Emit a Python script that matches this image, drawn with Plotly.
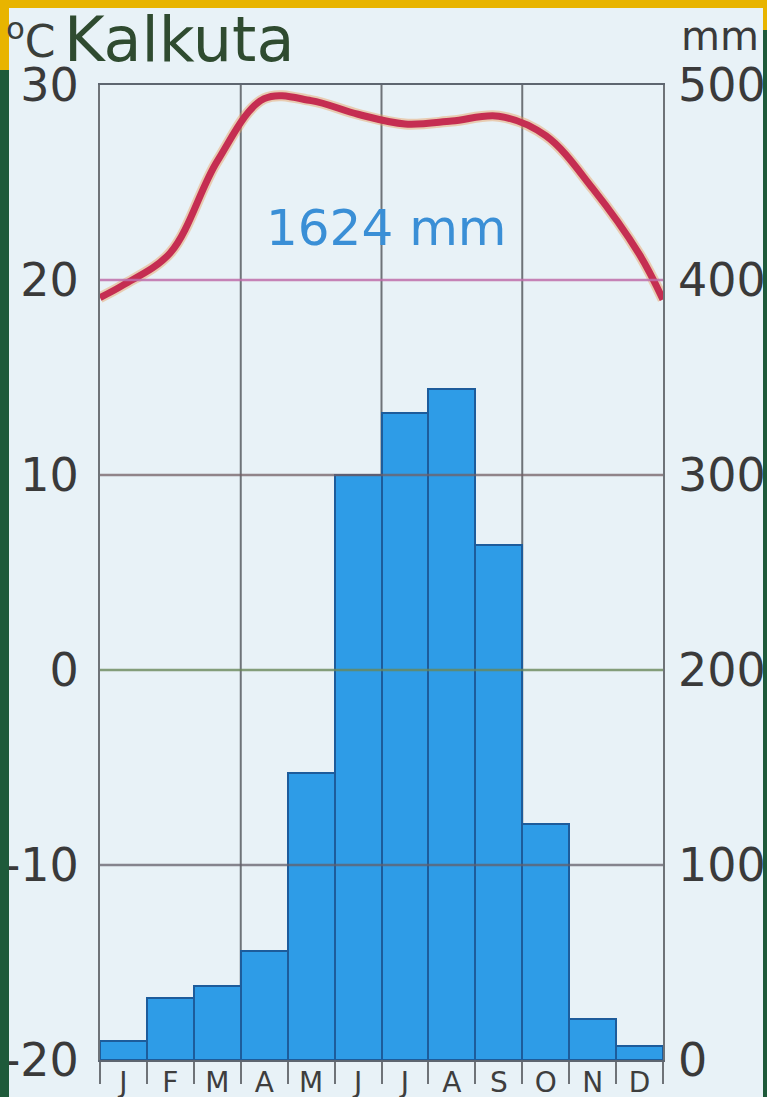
import plotly.graph_objects as go

# ---- data ----
months = ["J", "F", "M", "A", "M", "J", "J", "A", "S", "O", "N", "D"]
month_pos = list(range(12))
precip_mm = [10, 32, 38, 56, 147, 300, 332, 344, 264, 121, 21, 7]
temp_c = [19.75, 21.4, 26.1, 29.3, 29.2, 28.5, 28.0, 28.15, 28.4, 27.4, 24.7, 21.3]
temp_start = 19.1   # value at left edge of chart
temp_end = 19.0     # value at right edge of chart
temp_ticks = [-20, -10, 0, 10, 20, 30]
temp_ticktext = ["-20", "-10", "0", "10", "20", "30"]
precip_ticks = [0, 100, 200, 300, 400, 500]
total_label = "1624 mm"
station = "Kalkuta"

W, H = 767, 1097
L, R, T, B = 100, 104, 85, 37
pw, ph = W - L - R, H - T - B


def px_x(p):
    return (p - L) / pw


def px_y(p):
    return (H - B - p) / ph


FONT = "DejaVu Sans"
BG = "#E8F2F7"

fig = go.Figure()

fig.add_trace(go.Bar(
    x=month_pos, y=precip_mm, yaxis="y2", width=1,
    marker=dict(color="#2E9CE7", line=dict(color="#1D5C9B", width=2)),
    showlegend=False,
))

line_x = [-0.5] + month_pos + [11.5]
line_y = [temp_start] + temp_c + [temp_end]
fig.add_trace(go.Scatter(
    x=line_x, y=line_y, mode="lines", line=dict(color="#E9A060", width=11, shape="spline", smoothing=1.0),
    opacity=0.45, showlegend=False, hoverinfo="skip",
))
fig.add_trace(go.Scatter(
    x=line_x, y=line_y, mode="lines", line=dict(color="#C52E52", width=7, shape="spline", smoothing=1.0),
    showlegend=False,
))

shapes = []
# vertical grid lines (every three months)
for xv in [2.5, 5.5, 8.5]:
    shapes.append(dict(type="line", xref="x", yref="paper", x0=xv, x1=xv, y0=0, y1=1,
                       line=dict(color="#6E7378", width=2), layer="below"))
# horizontal grid lines (drawn above bars, like the print)
grid_cols = {20: "rgba(190,110,170,0.85)", 10: "rgba(115,95,100,0.75)",
             0: "rgba(105,135,90,0.8)", -10: "rgba(100,95,105,0.75)"}
for yv, col in grid_cols.items():
    shapes.append(dict(type="line", xref="paper", yref="y", x0=0, x1=1, y0=yv, y1=yv,
                       line=dict(color=col, width=2.5), layer="above"))

# decorative photo frame
shapes += [
    dict(type="rect", xref="paper", yref="paper", x0=px_x(0), x1=px_x(9), y0=px_y(H), y1=px_y(70),
         fillcolor="#1E5A3A", line=dict(width=0), layer="above"),
    dict(type="rect", xref="paper", yref="paper", x0=px_x(0), x1=px_x(9), y0=px_y(70), y1=px_y(0),
         fillcolor="#E8B400", line=dict(width=0), layer="above"),
    dict(type="rect", xref="paper", yref="paper", x0=px_x(0), x1=px_x(W), y0=px_y(8), y1=px_y(0),
         fillcolor="#E8B400", line=dict(width=0), layer="above"),
    dict(type="rect", xref="paper", yref="paper", x0=px_x(763), x1=px_x(W), y0=px_y(H), y1=px_y(30),
         fillcolor="#1E5A3A", line=dict(width=0), layer="above"),
    dict(type="rect", xref="paper", yref="paper", x0=px_x(763), x1=px_x(W), y0=px_y(30), y1=px_y(0),
         fillcolor="#E8B400", line=dict(width=0), layer="above"),
]

annotations = [
    dict(text="<sup>o</sup>C", xref="paper", yref="paper", x=px_x(4), y=px_y(38),
         xanchor="left", yanchor="middle", showarrow=False,
         font=dict(family=FONT, size=44, color="#3A3F3A")),
    dict(text=station, xref="paper", yref="paper", x=px_x(62), y=px_y(40),
         xanchor="left", yanchor="middle", showarrow=False,
         font=dict(family=FONT, size=62, color="#2F4B30")),
    dict(text="mm", xref="paper", yref="paper", x=px_x(679), y=px_y(36),
         xanchor="left", yanchor="middle", showarrow=False,
         font=dict(family=FONT, size=40, color="#3A3A3A")),
    dict(text=total_label, xref="paper", yref="paper", x=px_x(386), y=px_y(228),
         xanchor="center", yanchor="middle", showarrow=False,
         font=dict(family=FONT, size=50, color="#3A8FD6")),
]

fig.update_layout(
    width=W, height=H,
    margin=dict(l=L, r=R, t=T, b=B, autoexpand=False),
    paper_bgcolor=BG, plot_bgcolor=BG,
    bargap=0,
    shapes=shapes, annotations=annotations,
    xaxis=dict(
        range=[-0.5, 11.5], tickmode="array", tickvals=month_pos, ticktext=months,
        ticks="", tickfont=dict(family=FONT, size=28, color="#3E3E3E"),
        ticklabelstandoff=-4,
        showgrid=False, zeroline=False, showline=True, linecolor="#5E6670", linewidth=2, mirror=True,
        minor=dict(tickmode="array", tickvals=[i + 0.5 for i in range(-1, 12)], ticks="outside",
                   ticklen=22, tickcolor="#6E7378", tickwidth=2),
        automargin=False, fixedrange=True,
    ),
    yaxis=dict(
        range=[-20, 30], tickmode="array", tickvals=temp_ticks, ticktext=temp_ticktext,
        ticks="", tickfont=dict(family=FONT, size=46, color="#3A3A3A"), ticklabelstandoff=10,
        showgrid=False, zeroline=False, showline=True, linecolor="#6E7378", linewidth=2, mirror=True,
        automargin=False,
    ),
    yaxis2=dict(
        range=[0, 500], overlaying="y", side="right", tickmode="array", tickvals=precip_ticks,
        ticks="", tickfont=dict(family=FONT, size=46, color="#3A3A3A"), ticklabelstandoff=14,
        showgrid=False, zeroline=False, showline=False, automargin=False,
    ),
)

fig.write_html(
    "out.html",
    config={"displayModeBar": False},
    post_script="document.body.style.margin='0';document.body.style.overflow='hidden';",
)
